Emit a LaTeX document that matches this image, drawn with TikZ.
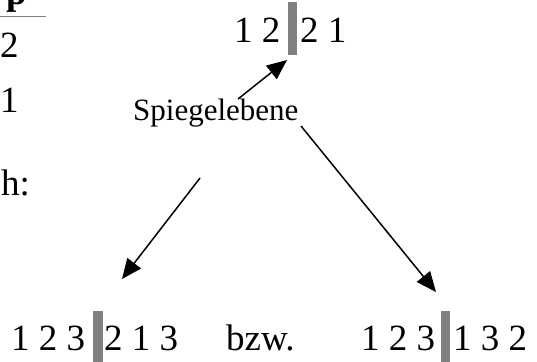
\documentclass[tikz,border=0pt]{standalone}
\usepackage{fontspec}
\setmainfont{Liberation Serif}
\usetikzlibrary{arrows.meta}
\definecolor{bargray}{RGB}{128,128,128}
\tikzset{
  big/.style={inner sep=0pt, anchor=base west, font=\fontsize{37}{40}\selectfont},
  mid/.style={inner sep=0pt, anchor=base west, font=\fontsize{31}{34}\selectfont},
  bar/.style={fill=bargray, draw=none},
  arr/.style={line width=1.5pt, -{Triangle[length=20pt,width=17pt]}}
}
\begin{document}
\begin{tikzpicture}[x=1pt,y=-1pt]
\useasboundingbox (0,0) rectangle (537,361);
\clip (0,0) rectangle (537,361);
% left column fragments
\node[big, font=\fontsize{37}{40}\selectfont\bfseries] (p) at (6,5) {p};
\draw[bargray, line width=1pt] (0,17) -- (46,17);
\node[big] (c2) at (0,57) {2};
\node[big] (c1) at (0,112) {1};
\node[big] (ch) at (1,195) {h:};
% top row
\node[big] (t1) at (234,42) {1 2};
\fill[bar] (288,2) rectangle (297,55);
\node[big] (t2) at (300,42) {2 1};
% label
\node[mid] (sp) at (133,120) {Spiegelebene};
% bottom row
\node[big] (b1) at (11,350) {1 2 3};
\fill[bar] (93,311) rectangle (103,370);
\node[big] (b2) at (104,350) {2 1 3};
\node[big] (bzw) at (226,350) {bzw.};
\node[big] (b3) at (361,350) {1 2 3};
\fill[bar] (441,311) rectangle (450,370);
\node[big] (b4) at (453,350) {1 3 2};
% arrows
\coordinate (uA) at (238,99);
\coordinate (uB) at (287,60);
\coordinate (lA) at (200,178);
\coordinate (lB) at (122,279);
\coordinate (rA) at (301,126);
\coordinate (rB) at (436,292);
\draw[arr] (uA) -- (uB);
\draw[arr] (lA) -- (lB);
\draw[arr] (rA) -- (rB);
\end{tikzpicture}
\end{document}
